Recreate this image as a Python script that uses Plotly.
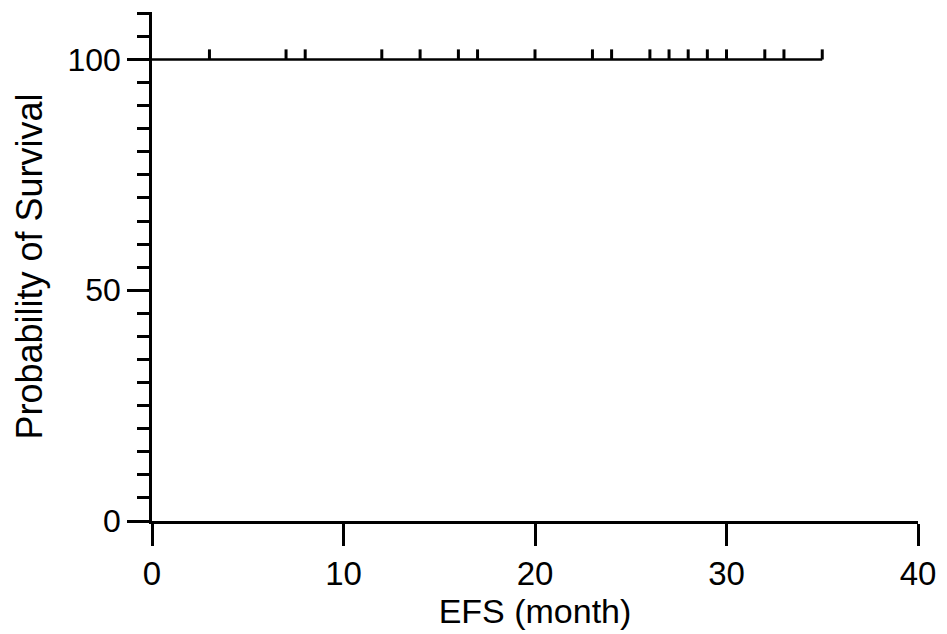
import plotly.graph_objects as go

# Survival step line (flat at 100%)
line_x = [0, 35]
line_y = [100, 100]

# Censored observation times (months)
censor_x = [3, 7, 8, 12, 14, 16, 17, 20, 23, 24, 26, 27, 28, 29, 30, 32, 33, 35]
censor_y = [100] * len(censor_x)

x_ticks = [0, 10, 20, 30, 40]
y_ticks = [0, 50, 100]

FONT = "Liberation Sans, Arial, sans-serif"

fig = go.Figure()
fig.add_trace(go.Scatter(
    x=line_x, y=line_y, mode="lines",
    line=dict(color="black", width=2.5, shape="hv"),
    showlegend=False, hoverinfo="skip",
))
fig.add_trace(go.Scatter(
    x=censor_x, y=censor_y, mode="markers",
    marker=dict(size=1, color="black", opacity=0),
    error_y=dict(type="data", symmetric=False, array=[2.2] * len(censor_x),
                 arrayminus=[0] * len(censor_x), width=0, thickness=3, color="black"),
    showlegend=False, hoverinfo="skip",
))

fig.update_layout(
    width=939, height=626,
    margin=dict(l=144, r=29, t=4, b=113),
    plot_bgcolor="white", paper_bgcolor="white",
    font=dict(family=FONT, size=33, color="black"),
    xaxis=dict(
        range=[0, 40], tickvals=x_ticks, ticks="outside", ticklen=22, tickwidth=2.5,
        tickcolor="black", showline=True, linecolor="black", linewidth=2.5,
        showgrid=False, zeroline=False, automargin=False,
        title=dict(text="EFS (month)", standoff=7, font=dict(size=34)),
        tickfont=dict(size=33),
    ),
    yaxis=dict(
        range=[0, 110.3], tickvals=y_ticks, ticks="outside", ticklen=22, tickwidth=2.5,
        tickcolor="black", showline=True, linecolor="black", linewidth=2.5,
        showgrid=False, zeroline=False, automargin=False,
        minor=dict(dtick=5, tick0=0, ticks="outside", ticklen=12, tickwidth=2.5,
                   tickcolor="black", showgrid=False),
        title=dict(text="Probability of Survival", standoff=14, font=dict(size=36)),
        tickfont=dict(size=32),
    ),
)

fig.write_html("out.html")
